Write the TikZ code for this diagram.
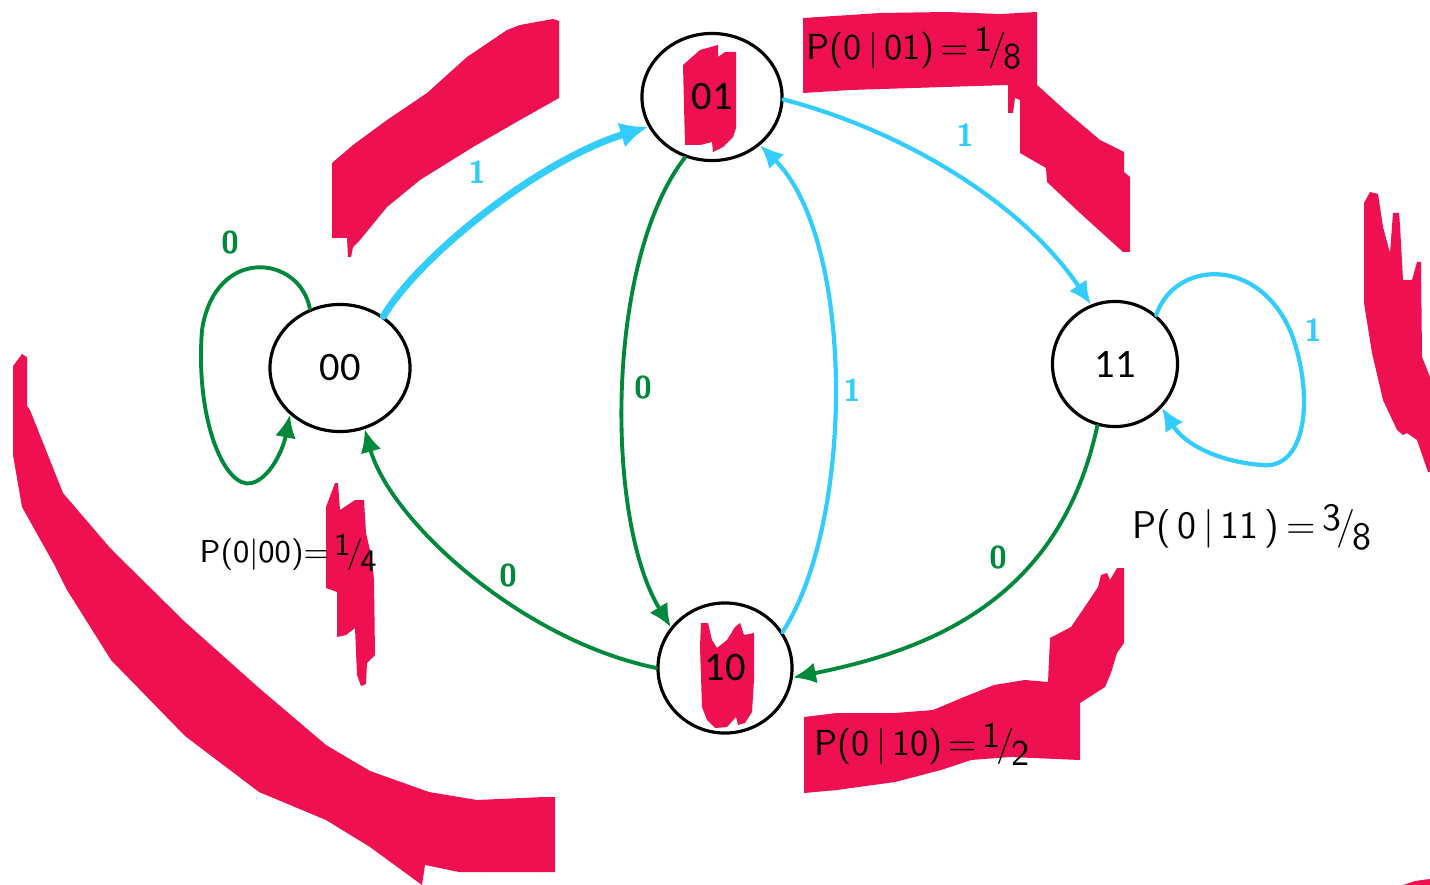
\documentclass[tikz,border=0pt]{standalone}
\usepackage{fontspec}
\usepackage{tikz}
\usetikzlibrary{arrows.meta, positioning, shapes.geometric}
\newfontfamily\nodefont{Carlito}
\definecolor{redact}{RGB}{238,16,80}
\definecolor{skyline}{RGB}{51,204,255}
\definecolor{grnline}{RGB}{0,137,59}
\newcommand{\hfrac}[2]{\raisebox{0.5ex}{#1}\kern-0.12em/\kern-0.08em\raisebox{-0.6ex}{#2}}

\tikzset{
  mstate/.style={ellipse, draw, line width=0.9pt, minimum width=1.4cm, minimum height=1.27cm, inner sep=0pt, font=\nodefont\fontsize{11.5}{13}\selectfont},
  redmark/.style={fill=redact, draw=none},
  bluepath/.style={draw=skyline, line width=1.2pt, line cap=round, -{Latex[length=0.23cm,width=0.21cm]}},
  greenpath/.style={draw=grnline, line width=1.1pt, line cap=round, -{Latex[length=0.23cm,width=0.21cm]}},
  lbl/.style={font=\sffamily\bfseries\fontsize{9}{10}\selectfont, inner sep=0pt},
  prob/.style={font=\sffamily\fontsize{10.3}{12}\selectfont, inner sep=0pt, anchor=west},
}

\begin{document}
\begin{tikzpicture}[x=0.01cm, y=-0.01cm]

\useasboundingbox (0,0) rectangle (1430,885);

% red marks
\fill[redmark] (332,163) -- (353,145) -- (387,120) -- (427,93) -- (467,57) -- (507,30) -- (520,25) -- (553,19) -- (559,21) -- (559,98) -- (520,120) -- (473,147) -- (420,180) -- (387,207) -- (360,240) -- (353,247) -- (351,257) -- (348,257) -- (347,238) -- (332,238) -- cycle;
\fill[redmark] (803,18) -- (850,15) -- (880,13) -- (947,12) -- (1000,14) -- (1037,12) -- (1037,85) -- (1067,112) -- (1100,140) -- (1124,152) -- (1124,172) -- (1130,177) -- (1130,252) -- (1123,252) -- (1080,213) -- (1047,182) -- (1046,168) -- (1020,153) -- (1020,100) -- (1015,98) -- (1013,113) -- (1008,113) -- (1008,85) -- (913,88) -- (850,90) -- (803,93) -- cycle;
\fill[redmark] (1364,203) -- (1370,192) -- (1378,194) -- (1383,227) -- (1390,253) -- (1393,213) -- (1399,213) -- (1400,225) -- (1403,280) -- (1412,280) -- (1417,262) -- (1421,262) -- (1422,357) -- (1430,377) -- (1430,472) -- (1428,472) -- (1417,440) -- (1407,433) -- (1403,435) -- (1397,430) -- (1383,400) -- (1372,353) -- (1364,303) -- cycle;
\fill[redmark] (22,354) -- (27,357) -- (27,406) -- (30,410) -- (63,493) -- (111,549) -- (185,622) -- (259,688) -- (326,745) -- (370,771) -- (429,792) -- (477,800) -- (544,797) -- (555,797) -- (555,872) -- (459,872) -- (425,865) -- (422,885) -- (370,847) -- (326,820) -- (259,792) -- (185,736) -- (111,660) -- (67,590) -- (55,566) -- (22,507) -- (13,455) -- (13,366) -- cycle;
\fill[redmark] (335,483) -- (338,483) -- (340,510) -- (355,500) -- (364,500) -- (366,533) -- (372,559) -- (374,580) -- (375,655) -- (367,663) -- (366,684) -- (361,686) -- (357,675) -- (355,628) -- (346,635) -- (337,637) -- (337,592) -- (326,588) -- (326,507) -- cycle;
\fill[redmark] (683,65) -- (700,50) -- (718,45) -- (718,57) -- (725,52) -- (736,52) -- (736,128) -- (733,137) -- (723,147) -- (713,152) -- (712,142) -- (700,145) -- (685,145) -- cycle;
\fill[redmark] (701,623) -- (708,623) -- (712,640) -- (717,648) -- (727,640) -- (735,627) -- (740,623) -- (744,635) -- (754,633) -- (754,680) -- (752,712) -- (745,723) -- (738,725) -- (736,717) -- (727,727) -- (715,728) -- (707,720) -- (702,707) -- (700,647) -- cycle;
\fill[redmark] (804,717) -- (837,713) -- (895,713) -- (933,710) -- (964,697) -- (994,685) -- (1025,680) -- (1048,682) -- (1050,638) -- (1071,627) -- (1086,605) -- (1098,587) -- (1101,575) -- (1107,573) -- (1110,580) -- (1117,568) -- (1124,568) -- (1124,643) -- (1117,653) -- (1111,673) -- (1105,687) -- (1080,703) -- (1080,760) -- (1010,757) -- (971,760) -- (941,770) -- (895,782) -- (837,790) -- (804,793) -- cycle;
\fill[redmark] (1403,885) -- (1415,881) -- (1430,879) -- (1430,885) -- cycle;

% states
\node[mstate] (s00) at (340,368) {00};
\node[mstate] (s01) at (712,97) {01};
\node[mstate, minimum width=1.25cm, minimum height=1.25cm] (s11) at (1115,364) {11};
\node[mstate, minimum width=1.34cm, minimum height=1.3cm] (s10) at (725,668) {10};

% transitions
\draw[bluepath, line width=2pt, -{Latex[length=0.28cm,width=0.26cm]}] (s00.50) .. controls (420,255) and (540,160) .. (s01.205);
\draw[bluepath] (s01.358) .. controls (900,130) and (1020,200) .. (s11.112);
\draw[bluepath] (s10.32) .. controls (855,520) and (855,240) .. (s01.315);
\draw[greenpath] (s01.246) .. controls (605,260) and (605,520) .. (s10.143);
\draw[greenpath] (s10.180) .. controls (520,640) and (390,520) .. (s00.292);
\draw[greenpath] (s11.254) .. controls (1060,600) and (930,650) .. (s10.352);
\draw[greenpath] (s00.117) .. controls (300,255) and (215,245) .. (202,330) .. controls (195,420) and (225,490) .. (252,483) .. controls (270,478) and (283,450) .. (s00.223);
\draw[bluepath] (s11.50) .. controls (1175,260) and (1260,255) .. (1292,335) .. controls (1315,400) and (1305,470) .. (1262,465) .. controls (1220,462) and (1185,445) .. (s11.317);

% edge labels
\node[lbl, text=skyline] (l0001) at (477,172) {1};
\node[lbl, text=skyline] (l0111) at (965,135) {1};
\node[lbl, text=grnline] (l0000) at (230,243) {0};
\node[lbl, text=grnline] (l0110) at (643,388) {0};
\node[lbl, text=skyline] (l1001) at (852,390) {1};
\node[lbl, text=skyline] (l1111) at (1313,330) {1};
\node[lbl, text=grnline] (l1000) at (508,576) {0};
\node[lbl, text=grnline] (l1110) at (998,558) {0};

% probabilities
\node[prob] (p01) at (806,48) {P(0\,|\,01)\,=\,\hfrac{1}{8}};
\node[prob, font=\sffamily\fontsize{9}{11}\selectfont] (p00) at (199,553) {P(0|00)=\,\hfrac{1}{4}};
\node[prob] (p10) at (814,744) {P(0\,|\,10)\,=\,\hfrac{1}{2}};
\node[prob, font=\sffamily\fontsize{11}{13}\selectfont] (p11) at (1132,527) {P(\,0\,|\,11\,)\,=\,\hfrac{3}{8}};

\end{tikzpicture}
\end{document}
